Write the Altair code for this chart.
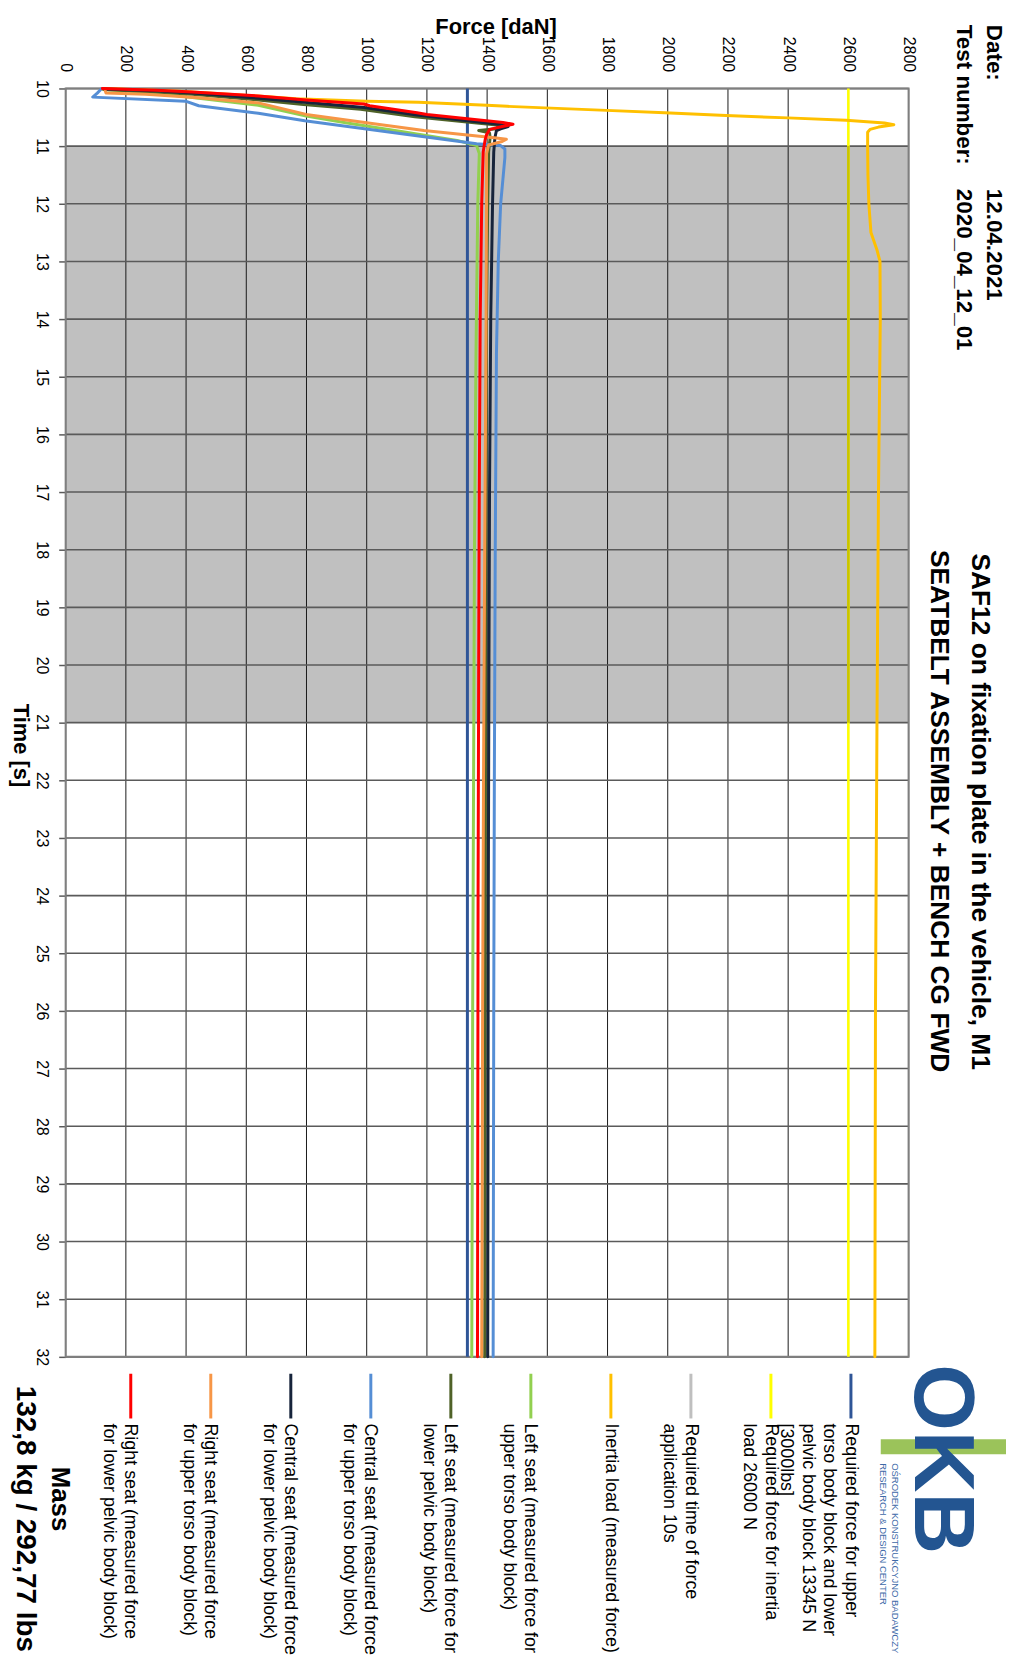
import altair as alt
import pandas as pd

# ---------------- data ----------------
force_ticks = list(range(0, 2801, 200))          # daN
time_ticks = list(range(10, 33))                 # s
required_force = 1334.5                          # 13345 N
required_inertia = 2600.0                        # 26000 N
hold_window = [11, 21]                           # required time of force application 10 s

inertia_t = [10.00, 10.05, 10.13, 10.18, 10.22, 10.24, 10.29, 10.31, 10.38, 10.42, 10.47, 10.51,
             10.55, 10.60, 10.63, 10.67, 10.71, 10.76, 11.0, 11.5, 12.0, 12.5, 12.8, 13.0, 14.0,
             17.0, 21.0, 26.0, 32.0]
inertia_f = [124, 380, 637, 765, 1000, 1172, 1399, 1467, 1797, 1990, 2194, 2399,
             2592, 2720, 2751, 2700, 2672, 2664, 2664, 2665, 2668, 2675, 2695, 2705, 2706,
             2700, 2695, 2690, 2688]

left_upper_t = [10.02, 10.06, 10.10, 10.17, 10.29, 10.48, 10.60, 10.75, 10.90, 10.99, 11.13,
                12.0, 14.6, 18.0, 22.0, 26.0, 32.0]
left_upper_f = [125, 250, 330, 442, 640, 799, 935, 1120, 1300, 1365, 1374,
                1369, 1363, 1358, 1355, 1352, 1349]

left_lower_t = [10.02, 10.06, 10.10, 10.20, 10.28, 10.36, 10.49, 10.64, 10.70, 10.73, 10.77,
                10.85, 11.1, 12.0, 14.0, 17.0, 20.0, 24.0, 28.0, 32.0]
left_lower_f = [128, 300, 420, 640, 790, 980, 1160, 1440, 1431, 1372, 1408,
                1410, 1405, 1402, 1398, 1396, 1395, 1394, 1393, 1392]

central_upper_t = [10.00, 10.08, 10.15, 10.22, 10.30, 10.43, 10.56, 10.76, 10.96, 10.99, 11.05,
                   11.2, 12.0, 13.0, 14.6, 18.0, 22.0, 26.0, 32.0]
central_upper_f = [120, 105, 90, 398, 442, 640, 794, 1079, 1365, 1445, 1459,
                   1459, 1445, 1437, 1431, 1427, 1424, 1422, 1420]

central_lower_t = [10.01, 10.04, 10.08, 10.17, 10.24, 10.33, 10.46, 10.63, 10.66, 10.70, 10.73,
                   10.85, 11.1, 12.0, 14.0, 17.0, 20.0, 24.0, 28.0, 32.0]
central_lower_f = [125, 300, 420, 640, 794, 992, 1167, 1453, 1470, 1445, 1431,
                   1426, 1422, 1418, 1412, 1408, 1406, 1404, 1403, 1402]

right_upper_t = [10.02, 10.08, 10.10, 10.16, 10.25, 10.45, 10.62, 10.73, 10.86, 10.88, 10.92,
                 10.98, 11.13, 12.0, 14.6, 18.0, 22.0, 26.0, 32.0]
right_upper_f = [130, 134, 266, 442, 640, 799, 1036, 1190, 1431, 1464, 1450,
                 1405, 1398, 1398, 1396, 1392, 1388, 1385, 1382]

right_lower_t = [10.00, 10.03, 10.06, 10.13, 10.20, 10.27, 10.30, 10.42, 10.45, 10.59, 10.62,
                 10.66, 10.71, 10.80, 10.90, 11.1, 12.0, 14.0, 17.0, 20.0, 24.0, 28.0, 32.0]
right_lower_f = [122, 300, 420, 640, 800, 990, 1010, 1167, 1200, 1453, 1486,
                 1450, 1409, 1398, 1393, 1387, 1382, 1377, 1374, 1372, 1370, 1369, 1368]

legend_labels = [
    ["Required force for upper", "torso body block and lower", "pelvic body block 13345 N", "[3000lbs]"],
    ["Required force for inertia", "load 26000 N"],
    ["Required time of force", "application 10s"],
    ["Inertia load (measured force)"],
    ["Left seat (measured force for", "upper torso body block)"],
    ["Left seat (measured force for", "lower pelvic body block)"],
    ["Central seat (measured force", "for upper torso body block)"],
    ["Central seat (measured force", "for lower pelvic body block)"],
    ["Right seat (measured force", "for upper torso body block)"],
    ["Right seat (measured force", "for lower pelvic body block)"],
]

# ---------------- styling ----------------
FONT = "Liberation Sans"
W, H = 848, 1276
OX, OY = 66, 84   # page position of plot origin

C_REQ = "#2F5597"
C_YEL = "#FFFF00"
C_GRAY = "#BFBFBF"
C_INERTIA = "#FFC000"
C_LGREEN = "#92D050"
C_OLIVE = "#4F6228"
C_LBLUE = "#558ED5"
C_NAVY = "#17243B"
C_ORANGE = "#F79646"
C_RED = "#FF0000"
legend_colors = [C_REQ, C_YEL, C_GRAY, C_INERTIA, C_LGREEN, C_OLIVE, C_LBLUE, C_NAVY, C_ORANGE, C_RED]

xscale = alt.Scale(domain=[0, 2800], nice=False, zero=False)
yscale = alt.Scale(domain=[10, 32], nice=False, zero=False, reverse=True)
xaxis = alt.Axis(orient="top", values=force_ticks, format="d", grid=False, domain=False, ticks=True,
                 tickSize=0, labelAngle=90, labelAlign="right", labelBaseline="middle", labelPadding=17,
                 labelFontSize=16, labelFont=FONT, labelColor="#000000", labelFlush=False,
                 labelOverlap=False, title="")
yaxis = alt.Axis(orient="left", values=time_ticks, format="d", grid=False, domain=False, ticks=True,
                 tickSize=7, tickColor="#595959", tickWidth=1.5, labelAngle=90, labelAlign="center",
                 labelBaseline="top", labelPadding=9, labelFontSize=16, labelFont=FONT,
                 labelColor="#000000", labelFlush=False, labelOverlap=False, title="")


def X(field):
    return alt.X(field, type="quantitative", scale=xscale, axis=xaxis)


def Y(field):
    return alt.Y(field, type="quantitative", scale=yscale, axis=yaxis)


one = pd.DataFrame({"a": [0]})
layers = []

# shaded hold window
band_df = pd.DataFrame({"f0": [force_ticks[0]], "f1": [force_ticks[-1]],
                        "t0": [hold_window[0]], "t1": [hold_window[1]]})
layers.append(alt.Chart(band_df).mark_rect(color="#C0C0C0").encode(
    x=X("f0"), x2="f1", y=Y("t0"), y2="t1"))

# grid lines
layers.append(alt.Chart(pd.DataFrame({"f": force_ticks})).mark_rule(color="#1a1a1a", strokeWidth=1).encode(
    x=X("f"), y=alt.value(0), y2=alt.value(H)))
layers.append(alt.Chart(pd.DataFrame({"t": time_ticks})).mark_rule(color="#5a5a5a", strokeWidth=1.6).encode(
    y=Y("t"), x=alt.value(0), x2=alt.value(W)))

# border
layers.append(alt.Chart(one).mark_rect(fillOpacity=0, stroke="#7f7f7f", strokeWidth=2).encode(
    x=alt.value(0), x2=alt.value(W), y=alt.value(0), y2=alt.value(H)))

# required levels
req_df = pd.DataFrame({"f": [required_force], "t0": [time_ticks[0]], "t1": [time_ticks[-1]]})
layers.append(alt.Chart(req_df).mark_rule(color=C_REQ, strokeWidth=3).encode(
    x=X("f"), y=Y("t0"), y2="t1"))
yel_df = pd.DataFrame({"f": [required_inertia], "t0": [time_ticks[0]], "t1": [time_ticks[-1]]})
layers.append(alt.Chart(yel_df).mark_rule(color=C_YEL, strokeWidth=2.6).encode(
    x=X("f"), y=Y("t0"), y2="t1"))
yel_band_df = pd.DataFrame({"f": [required_inertia], "t0": [hold_window[0]], "t1": [hold_window[1]]})
layers.append(alt.Chart(yel_band_df).mark_rule(color="#C8C200", strokeWidth=2.6).encode(
    x=X("f"), y=Y("t0"), y2="t1"))

# measured series (legend order => drawing order)
series = [
    (inertia_t, inertia_f, C_INERTIA),
    (left_upper_t, left_upper_f, C_LGREEN),
    (left_lower_t, left_lower_f, C_OLIVE),
    (central_upper_t, central_upper_f, C_LBLUE),
    (central_lower_t, central_lower_f, C_NAVY),
    (right_upper_t, right_upper_f, C_ORANGE),
    (right_lower_t, right_lower_f, C_RED),
]
for t, f, c in series:
    df = pd.DataFrame({"t": t, "f": f, "i": list(range(len(t)))})
    layers.append(alt.Chart(df).mark_line(color=c, strokeWidth=3, strokeJoin="round", strokeCap="round").encode(
        x=X("f"), y=Y("t"), order=alt.Order("i:Q")))


def txt(text, px, py, size, weight="normal", align="left", angle=90, color="#000000", baseline="middle"):
    return alt.Chart(one).mark_text(text=text, font=FONT, fontSize=size, fontWeight=weight, align=align,
                                    baseline=baseline, angle=angle, color=color).encode(
        x=alt.value(px - OX), y=alt.value(py - OY))


# titles and header
layers.append(txt("SAF12 on fixation plate in the vehicle, M1", 986, 811.5, 26.5, "bold", "center"))
layers.append(txt("SEATBELT ASSEMBLY + BENCH CG FWD", 945, 811, 26.5, "bold", "center"))
layers.append(txt("Date:", 1000, 20, 22.5, "bold"))
layers.append(txt("Test number:", 970, 20, 22.5, "bold"))
layers.append(txt("12.04.2021", 1000, 185, 22.5, "bold"))
layers.append(txt("2020_04_12_01", 970, 185, 22.5, "bold"))
layers.append(txt("Force [daN]", 499, 22, 22, "bold", "center", angle=0))
layers.append(txt("Time [s]", 21, 745, 22, "bold", "center"))
layers.append(txt("Mass", 60, 1503, 26, "bold", "center"))
layers.append(txt("132,8 kg / 292,77 lbs", 25, 1523, 28, "bold", "center"))

# legend
for k, (lab, col) in enumerate(zip(legend_labels, legend_colors)):
    lx = 856 - k * 80.5
    layers.append(alt.Chart(one).mark_rule(color=col, strokeWidth=3).encode(
        x=alt.value(lx - OX), y=alt.value(1377 - OY), y2=alt.value(1422 - OY)))
    layers.append(alt.Chart(one).mark_text(text=lab, font=FONT, fontSize=18, lineHeight=21.5, align="left",
                                           baseline="top", angle=90, color="#000000").encode(
        x=alt.value(lx + 8.6 - OX), y=alt.value(1427 - OY)))

# logo
layers.append(alt.Chart(one).mark_rect(color="#9BC35A").encode(
    x=alt.value(886 - OX), x2=alt.value(1012 - OX), y=alt.value(1443 - OY), y2=alt.value(1458 - OY)))
layers.append(txt("OKB", 946, 1463, 86, "bold", "center", color="#235591"))
layers.append(txt("OŚRODEK KONSTRUKCYJNO BADAWCZY", 900, 1467, 9.5, "normal", "left", color="#3E6AA8"))
layers.append(txt("RESEARCH & DESIGN CENTER", 888, 1467, 9.5, "normal", "left", color="#3E6AA8"))

chart = alt.layer(*layers).properties(
    width=W, height=H,
    padding={"left": 58, "top": 76, "right": 98, "bottom": 296},
    autosize=alt.AutoSizeParams(type="none"),
    background="#ffffff",
).configure_view(strokeWidth=0).configure(font=FONT)

chart.save("out.html", embed_options={"renderer": "svg", "actions": False})
